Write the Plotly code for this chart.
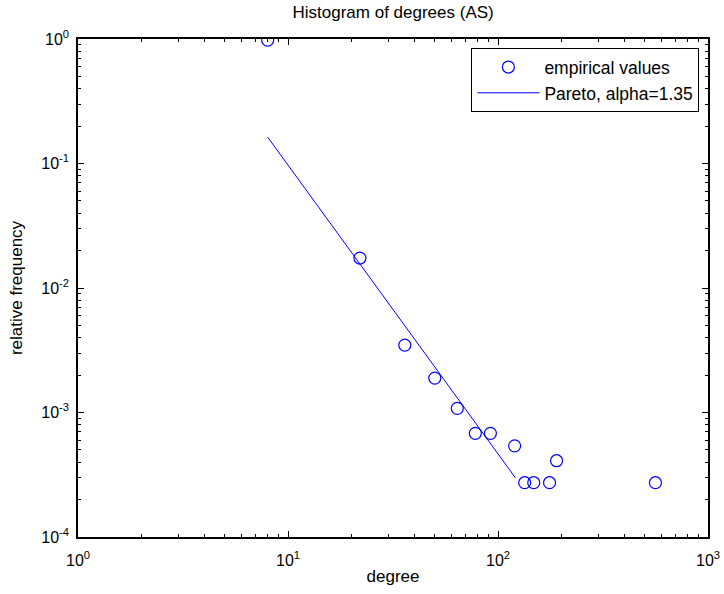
import plotly.graph_objects as go

# empirical histogram values
degree = [8, 22, 36, 50, 64, 78, 92, 120, 134, 148, 176, 190, 562]
rel_freq = [0.98, 0.0174, 0.00348, 0.00189, 0.00108, 0.00068, 0.00068,
            0.00054, 0.000273, 0.000273, 0.000273, 0.00041, 0.000273]

# Pareto fit line endpoints
pareto_x = [8, 121]
pareto_y = [0.163, 0.000299]

x_tickvals = [1, 10, 100, 1000]
x_ticktext = ["10<sup>0</sup>", "10<sup>1</sup>", "10<sup>2</sup>", "10<sup>3</sup>"]
y_tickvals = [1e-4, 1e-3, 1e-2, 1e-1, 1]
y_ticktext = ["10<sup>-4</sup>", "10<sup>-3</sup>", "10<sup>-2</sup>", "10<sup>-1</sup>", "10<sup>0</sup>"]

FONT = "Liberation Sans, Arial, Helvetica, sans-serif"
BLUE = "#0000ff"

fig = go.Figure()
fig.add_trace(go.Scatter(
    x=degree, y=rel_freq, mode="markers", name="empirical values",
    marker=dict(symbol="circle-open", size=12, color=BLUE, line=dict(width=1.2, color=BLUE)),
))
fig.add_trace(go.Scatter(
    x=pareto_x, y=pareto_y, mode="lines", name="Pareto, alpha=1.35",
    line=dict(color=BLUE, width=1),
))

axis_common = dict(
    type="log", showgrid=False, zeroline=False, showline=True, automargin=False,
    linecolor="black", linewidth=1.5, mirror="ticks",
    ticks="inside", ticklen=6, tickwidth=1, tickcolor="black",
    minor=dict(ticks="inside", ticklen=3, tickwidth=1, tickcolor="black", dtick="D1", showgrid=False),
    tickfont=dict(family=FONT, size=16, color="black"),
)

fig.update_layout(
    width=724, height=594,
    margin=dict(l=78, r=16, t=39, b=57),
    paper_bgcolor="white", plot_bgcolor="white",
    font=dict(family=FONT, size=16, color="black"),
    title=dict(text="Histogram of degrees (AS)", x=0.543, xanchor="center", y=0.98, yanchor="middle",
               font=dict(family=FONT, size=17, color="black")),
    xaxis=dict(axis_common, range=[0, 3], tickvals=x_tickvals, ticktext=x_ticktext,
               ticklabelstandoff=8,
               title=dict(text="degree", font=dict(family=FONT, size=17), standoff=2)),
    yaxis=dict(axis_common, range=[-4, 0], tickvals=y_tickvals, ticktext=y_ticktext,
               ticklabelstandoff=4,
               title=dict(text="relative frequency", font=dict(family=FONT, size=17), standoff=14)),
    legend=dict(x=0.986, y=0.982, xanchor="right", yanchor="top",
                bgcolor="white", bordercolor="black", borderwidth=1.2,
                font=dict(family=FONT, size=17.5, color="black"),
                itemwidth=62, tracegroupgap=0),
    showlegend=True,
)

fig.write_html("out.html")
